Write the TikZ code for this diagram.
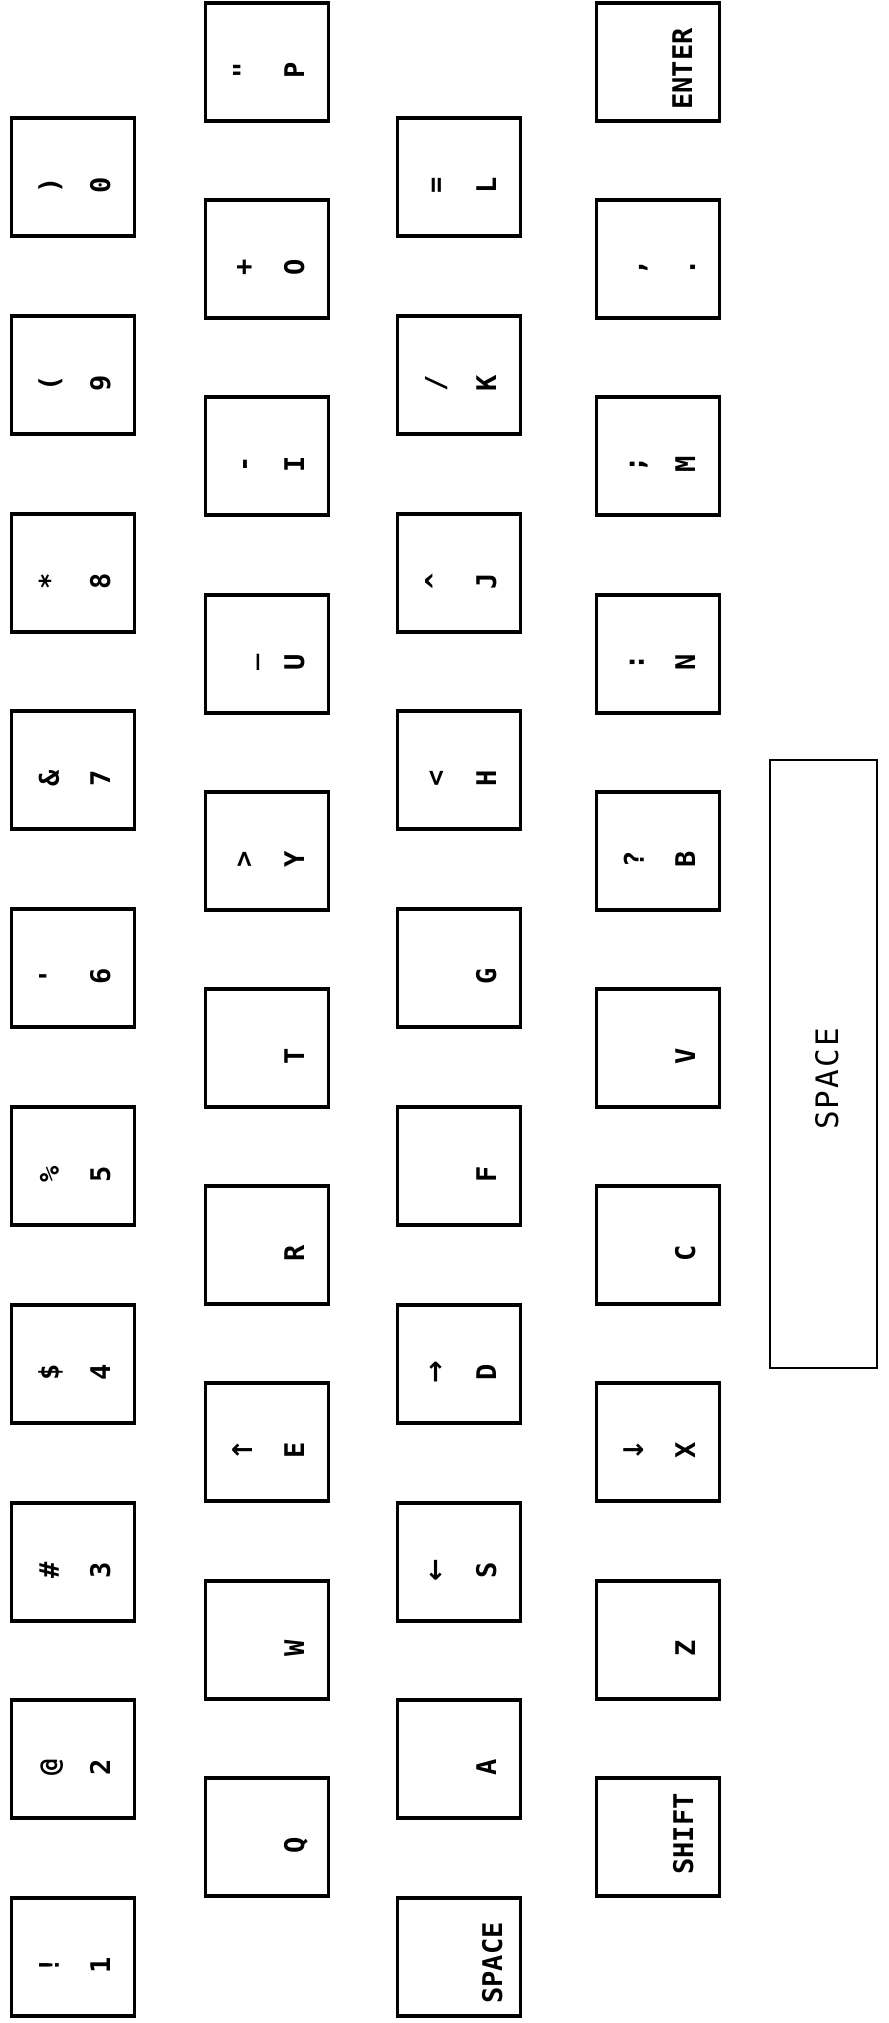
\documentclass[tikz,border=0pt]{standalone}
\usepackage{fontspec}
\newfontfamily\keyfont{DejaVu Sans Mono}
\newfontfamily\arrowfont{DejaVu Sans}

\begin{document}
\begin{tikzpicture}[x=0.01cm, y=-0.01cm,
    keycap/.style={draw, line width=0.9pt, minimum width=1.23cm, minimum height=1.18cm, inner sep=0pt},
    glyph/.style={font=\keyfont\bfseries\fontsize{7.7}{9}\selectfont, rotate=90, anchor=base, inner sep=0pt},
    arrowglyph/.style={glyph, font=\arrowfont\bfseries\fontsize{7.7}{9}\selectfont},
    barlabel/.style={font=\keyfont\fontsize{8.8}{10}\selectfont, rotate=90, anchor=base, inner sep=0pt}]
      \useasboundingbox (0,0) rectangle (889,2023);
      % number row
      \node[keycap] (k0) at (73,177) {}; \node[glyph] at ([xshift=-1.4mm,yshift=-0.8mm]k0.center) {)}; \node[glyph] at ([xshift=3.7mm,yshift=-0.8mm]k0.center) {0};
      \node[keycap] (k9) at (73,375) {}; \node[glyph] at ([xshift=-1.4mm,yshift=-0.8mm]k9.center) {(}; \node[glyph] at ([xshift=3.7mm,yshift=-0.8mm]k9.center) {9};
      \node[keycap] (k8) at (73,573) {}; \node[glyph] at ([xshift=-1.4mm,yshift=-0.8mm]k8.center) {*}; \node[glyph] at ([xshift=3.7mm,yshift=-0.8mm]k8.center) {8};
      \node[keycap] (k7) at (73,770) {}; \node[glyph] at ([xshift=-1.4mm,yshift=-0.8mm]k7.center) {\&}; \node[glyph] at ([xshift=3.7mm,yshift=-0.8mm]k7.center) {7};
      \node[keycap] (k6) at (73,968) {}; \node[glyph] at ([xshift=-1.4mm,yshift=-0.8mm]k6.center) {'}; \node[glyph] at ([xshift=3.7mm,yshift=-0.8mm]k6.center) {6};
      \node[keycap] (k5) at (73,1166) {}; \node[glyph] at ([xshift=-1.4mm,yshift=-0.8mm]k5.center) {\%}; \node[glyph] at ([xshift=3.7mm,yshift=-0.8mm]k5.center) {5};
      \node[keycap] (k4) at (73,1364) {}; \node[glyph] at ([xshift=-1.4mm,yshift=-0.8mm]k4.center) {\$}; \node[glyph] at ([xshift=3.7mm,yshift=-0.8mm]k4.center) {4};
      \node[keycap] (k3) at (73,1562) {}; \node[glyph] at ([xshift=-1.4mm,yshift=-0.8mm]k3.center) {\#}; \node[glyph] at ([xshift=3.7mm,yshift=-0.8mm]k3.center) {3};
      \node[keycap] (k2) at (73,1759) {}; \node[glyph] at ([xshift=-1.4mm,yshift=-0.8mm]k2.center) {@}; \node[glyph] at ([xshift=3.7mm,yshift=-0.8mm]k2.center) {2};
      \node[keycap] (k1) at (73,1957) {}; \node[glyph] at ([xshift=-1.4mm,yshift=-0.8mm]k1.center) {!}; \node[glyph] at ([xshift=3.7mm,yshift=-0.8mm]k1.center) {1};
      % top letter row
      \node[keycap] (kP) at (267,62) {}; \node[glyph] at ([xshift=-1.4mm,yshift=-0.8mm]kP.center) {"}; \node[glyph] at ([xshift=3.7mm,yshift=-0.8mm]kP.center) {P};
      \node[keycap] (kO) at (267,259) {}; \node[glyph] at ([xshift=-1.4mm,yshift=-0.8mm]kO.center) {+}; \node[glyph] at ([xshift=3.7mm,yshift=-0.8mm]kO.center) {O};
      \node[keycap] (kI) at (267,456) {}; \node[glyph] at ([xshift=-1.4mm,yshift=-0.8mm]kI.center) {-}; \node[glyph] at ([xshift=3.7mm,yshift=-0.8mm]kI.center) {I};
      \node[keycap] (kU) at (267,654) {}; \node[glyph] at ([xshift=-1.4mm,yshift=-0.8mm]kU.center) {\_}; \node[glyph] at ([xshift=3.7mm,yshift=-0.8mm]kU.center) {U};
      \node[keycap] (kY) at (267,851) {}; \node[glyph] at ([xshift=-1.4mm,yshift=-0.8mm]kY.center) {>}; \node[glyph] at ([xshift=3.7mm,yshift=-0.8mm]kY.center) {Y};
      \node[keycap] (kT) at (267,1048) {}; \node[glyph] at ([xshift=3.7mm,yshift=-0.8mm]kT.center) {T};
      \node[keycap] (kR) at (267,1245) {}; \node[glyph] at ([xshift=3.7mm,yshift=-0.8mm]kR.center) {R};
      \node[keycap] (kE) at (267,1442) {}; \node[arrowglyph] at ([xshift=-1.4mm,yshift=-0.8mm]kE.center) {↑}; \node[glyph] at ([xshift=3.7mm,yshift=-0.8mm]kE.center) {E};
      \node[keycap] (kW) at (267,1640) {}; \node[glyph] at ([xshift=3.7mm,yshift=-0.8mm]kW.center) {W};
      \node[keycap] (kQ) at (267,1837) {}; \node[glyph] at ([xshift=3.7mm,yshift=-0.8mm]kQ.center) {Q};
      % middle letter row
      \node[keycap] (kL) at (459,177) {}; \node[glyph] at ([xshift=-1.4mm,yshift=-0.8mm]kL.center) {=}; \node[glyph] at ([xshift=3.7mm,yshift=-0.8mm]kL.center) {L};
      \node[keycap] (kK) at (459,375) {}; \node[glyph] at ([xshift=-1.4mm,yshift=-0.8mm]kK.center) {/}; \node[glyph] at ([xshift=3.7mm,yshift=-0.8mm]kK.center) {K};
      \node[keycap] (kJ) at (459,573) {}; \node[glyph] at ([xshift=-1.4mm,yshift=-0.8mm]kJ.center) {\textasciicircum}; \node[glyph] at ([xshift=3.7mm,yshift=-0.8mm]kJ.center) {J};
      \node[keycap] (kH) at (459,770) {}; \node[glyph] at ([xshift=-1.4mm,yshift=-0.8mm]kH.center) {<}; \node[glyph] at ([xshift=3.7mm,yshift=-0.8mm]kH.center) {H};
      \node[keycap] (kG) at (459,968) {}; \node[glyph] at ([xshift=3.7mm,yshift=-0.8mm]kG.center) {G};
      \node[keycap] (kF) at (459,1166) {}; \node[glyph] at ([xshift=3.7mm,yshift=-0.8mm]kF.center) {F};
      \node[keycap] (kD) at (459,1364) {}; \node[arrowglyph] at ([xshift=-1.4mm,yshift=-0.8mm]kD.center) {→}; \node[glyph] at ([xshift=3.7mm,yshift=-0.8mm]kD.center) {D};
      \node[keycap] (kS) at (459,1562) {}; \node[arrowglyph] at ([xshift=-1.4mm,yshift=-0.8mm]kS.center) {←}; \node[glyph] at ([xshift=3.7mm,yshift=-0.8mm]kS.center) {S};
      \node[keycap] (kA) at (459,1759) {}; \node[glyph] at ([xshift=3.7mm,yshift=-0.8mm]kA.center) {A};
      \node[keycap] (kspace) at (459,1957) {}; \node[glyph] at ([xshift=4.3mm,yshift=-0.6mm]kspace.center) {SPACE};
      % bottom letter row
      \node[keycap] (kenter) at (658,62) {}; \node[glyph] at ([xshift=3.4mm,yshift=-0.7mm]kenter.center) {ENTER};
      \node[keycap] (kdot) at (658,259) {}; \node[glyph] at ([xshift=-1.4mm,yshift=-0.8mm]kdot.center) {,}; \node[glyph] at ([xshift=3.7mm,yshift=-0.8mm]kdot.center) {.};
      \node[keycap] (kM) at (658,456) {}; \node[glyph] at ([xshift=-1.4mm,yshift=-0.8mm]kM.center) {;}; \node[glyph] at ([xshift=3.7mm,yshift=-0.8mm]kM.center) {M};
      \node[keycap] (kN) at (658,654) {}; \node[glyph] at ([xshift=-1.4mm,yshift=-0.8mm]kN.center) {:}; \node[glyph] at ([xshift=3.7mm,yshift=-0.8mm]kN.center) {N};
      \node[keycap] (kB) at (658,851) {}; \node[glyph] at ([xshift=-1.4mm,yshift=-0.8mm]kB.center) {?}; \node[glyph] at ([xshift=3.7mm,yshift=-0.8mm]kB.center) {B};
      \node[keycap] (kV) at (658,1048) {}; \node[glyph] at ([xshift=3.7mm,yshift=-0.8mm]kV.center) {V};
      \node[keycap] (kC) at (658,1245) {}; \node[glyph] at ([xshift=3.7mm,yshift=-0.8mm]kC.center) {C};
      \node[keycap] (kX) at (658,1442) {}; \node[arrowglyph] at ([xshift=-1.4mm,yshift=-0.8mm]kX.center) {↓}; \node[glyph] at ([xshift=3.7mm,yshift=-0.8mm]kX.center) {X};
      \node[keycap] (kZ) at (658,1640) {}; \node[glyph] at ([xshift=3.7mm,yshift=-0.8mm]kZ.center) {Z};
      \node[keycap] (kshift) at (658,1837) {}; \node[glyph] at ([xshift=3.5mm,yshift=0.3mm]kshift.center) {SHIFT};
      % space bar
      \node[draw, line width=0.5pt, minimum width=1.07cm, minimum height=6.08cm, inner sep=0pt] (spacebar) at (823.5,1064) {};
      \node[barlabel] at ([xshift=1.45mm,yshift=-1.5mm]spacebar.center) {S\hspace{0.6pt}P\hspace{0.6pt}A\hspace{0.6pt}C\hspace{0.6pt}E};
\end{tikzpicture}
\end{document}
